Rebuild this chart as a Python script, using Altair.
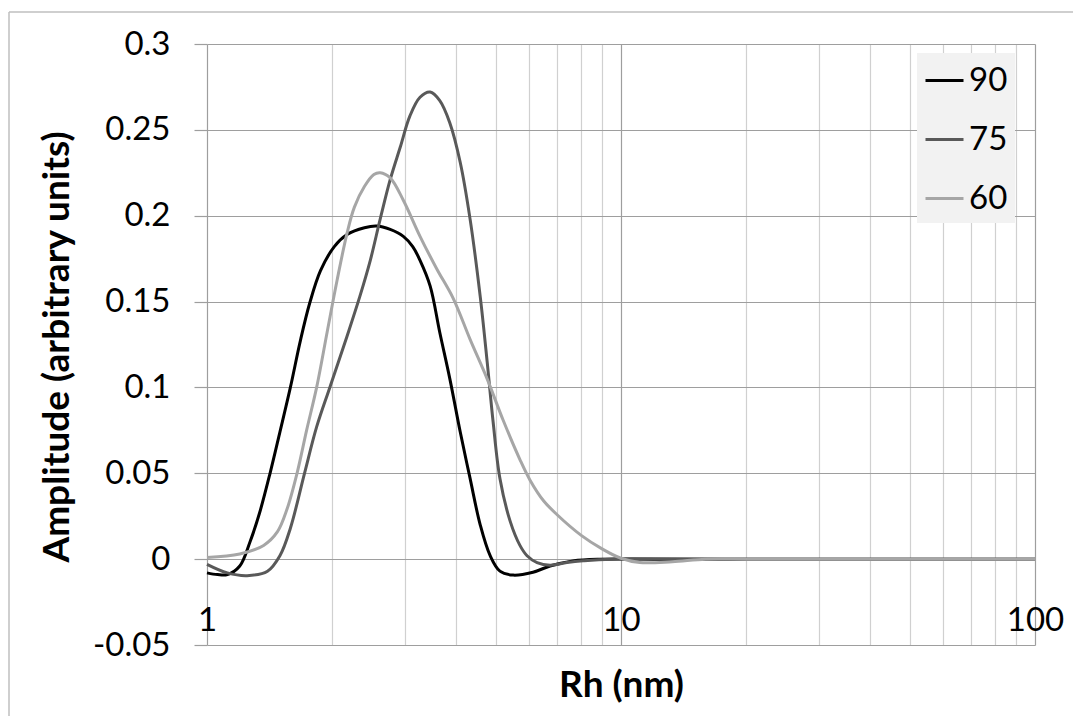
import altair as alt
import pandas as pd

# ---- data ----
series_names = ["90", "75", "60"]
series_colors = ["#000000", "#595959", "#a6a6a6"]

x_90 = [1.0, 1.06, 1.12, 1.2, 1.27, 1.34, 1.42, 1.5, 1.59, 1.68,
        1.77, 1.88, 2.03, 2.18, 2.4, 2.57, 2.77, 2.98, 3.14, 3.27,
        3.46, 3.65, 3.86, 4.09, 4.32, 4.57, 4.83, 5.1, 5.49, 6.13,
        6.74, 7.66, 8.9, 12, 20, 50, 100]
y_90 = [-0.008, -0.009, -0.009, -0.004, 0.01, 0.027, 0.05, 0.074, 0.1, 0.127,
        0.149, 0.168, 0.182, 0.189, 0.193, 0.194, 0.192, 0.188, 0.182, 0.174,
        0.159, 0.132, 0.105, 0.074, 0.047, 0.02, 0.002, -0.007, -0.0093, -0.0076,
        -0.004, -0.001, 0, 0, 0, 0, 0]

x_75 = [1.0, 1.12, 1.25, 1.4, 1.5, 1.59, 1.72, 1.84, 1.98, 2.18,
        2.34, 2.48, 2.62, 2.77, 2.93, 3.09, 3.27, 3.46, 3.65, 3.86,
        4.09, 4.32, 4.57, 4.75, 4.91, 5.1, 5.4, 5.7, 5.93, 6.27,
        6.74, 7.4, 8.1, 9.5, 20, 50, 100]
y_75 = [-0.003, -0.008, -0.0096, -0.007, 0.002, 0.018, 0.05, 0.077, 0.1, 0.13,
        0.153, 0.174, 0.198, 0.221, 0.24, 0.258, 0.269, 0.272, 0.267, 0.254,
        0.231, 0.198, 0.153, 0.115, 0.08, 0.047, 0.022, 0.008, 0.002, -0.002,
        -0.0035, -0.002, -0.001, 0, 0, 0, 0]

x_60 = [1.0, 1.2, 1.37, 1.48, 1.56, 1.65, 1.74, 1.84, 1.95, 2.06,
        2.18, 2.27, 2.4, 2.53, 2.62, 2.77, 2.98, 3.27, 3.59, 3.93,
        4.32, 4.75, 5.19, 5.7, 6.03, 6.5, 7.0, 8.0, 9.0, 10.0,
        11.1, 13.3, 16, 20, 50, 100]
y_60 = [0.001, 0.003, 0.008, 0.016, 0.029, 0.05, 0.075, 0.1, 0.132, 0.162,
        0.19, 0.205, 0.217, 0.224, 0.225, 0.222, 0.209, 0.188, 0.169, 0.152,
        0.128, 0.105, 0.081, 0.058, 0.046, 0.034, 0.026, 0.014, 0.006, 0.0005,
        -0.002, -0.0015, 0, 0, 0, 0]

x_grid_values = [1, 2, 3, 4, 5, 6, 7, 8, 9, 10, 20, 30, 40, 50, 60, 70, 80, 90, 100]
x_label_values = [1, 10, 100]
y_tick_values = [-0.05, 0, 0.05, 0.1, 0.15, 0.2, 0.25, 0.3]

# ---- build table ----
rows = []
for name, xs, ys in zip(series_names, [x_90, x_75, x_60], [y_90, y_75, y_60]):
    for i, (xv, yv) in enumerate(zip(xs, ys)):
        rows.append({"series": name, "Rh": xv, "amp": yv, "order": i})
df = pd.DataFrame(rows)

FONT = "Lato"
MAJOR = "#9e9e9e"
MINOR = "#d0d0d0"
LABEL_SIZE = 33
TITLE_SIZE = 37

major_test = " || ".join(f"datum.value == {v}" for v in x_label_values)

W, H = 828, 601

lines = alt.Chart(df).mark_line(strokeWidth=3, interpolate="catmull-rom").encode(
    x=alt.X("Rh:Q",
            scale=alt.Scale(type="log", domain=[1, 100], nice=False),
            axis=alt.Axis(values=x_grid_values, grid=True,
                          gridColor={"condition": {"test": major_test, "value": MAJOR}, "value": MINOR},
                          gridWidth=1.2, ticks=False, tickSize=0, domain=False,
                          labelExpr=f"({major_test}) ? '' + datum.value : ''",
                          labelFont=FONT, labelFontSize=LABEL_SIZE, labelColor="black",
                          labelBaseline="middle", labelPadding=-25,
                          labelFlush=False, labelOverlap=False,
                          title="Rh (nm)", titleFont=FONT, titleFontSize=TITLE_SIZE,
                          titleFontWeight="bold", titleColor="black",
                          titleX=W / 2, titleY=40, titleBaseline="middle")),
    y=alt.Y("amp:Q",
            scale=alt.Scale(domain=[-0.05, 0.3], nice=False, zero=False),
            axis=alt.Axis(values=y_tick_values, grid=True, gridColor=MAJOR, gridWidth=1.2,
                          ticks=True, tickSize=13, tickColor=MAJOR, tickWidth=1.2,
                          domain=False,
                          labelExpr="'' + datum.value",
                          labelFont=FONT, labelFontSize=LABEL_SIZE, labelColor="black",
                          labelPadding=24,
                          title="Amplitude (arbitrary units)", titleFont=FONT,
                          titleFontSize=TITLE_SIZE, titleFontWeight="bold", titleColor="black",
                          titleAngle=270, titleX=-150, titleY=H / 2 + 2,
                          titleBaseline="middle", titleAlign="center")),
    color=alt.Color("series:N",
                    scale=alt.Scale(domain=series_names, range=series_colors),
                    sort=series_names,
                    legend=alt.Legend(title=None, orient="none", legendX=710, legendY=9,
                                      fillColor="#f2f2f2", padding=7,
                                      symbolType="stroke", symbolSize=1444,
                                      symbolStrokeWidth=3, labelFont=FONT,
                                      labelFontSize=LABEL_SIZE, labelColor="black",
                                      labelOffset=4, rowPadding=21)),
    order="order:Q",
)

frame = pd.DataFrame({"k": [0]})
left_border = alt.Chart(frame).mark_rule(color="#bfbfbf", strokeWidth=1.5).encode(
    x=alt.value(-198), y=alt.value(-32), y2=alt.value(H + 80))
top_border = alt.Chart(frame).mark_rule(color="#bfbfbf", strokeWidth=1.5).encode(
    x=alt.value(-198), x2=alt.value(W + 60), y=alt.value(-32))

chart = alt.layer(left_border, top_border, lines).properties(
    width=W, height=H,
    autosize=alt.AutoSizeParams(type="none"),
    padding={"left": 207, "top": 44, "right": 38, "bottom": 71},
    background="white",
).configure_view(stroke="transparent")

chart.save("out.html", embed_options={"renderer": "svg", "actions": False})
